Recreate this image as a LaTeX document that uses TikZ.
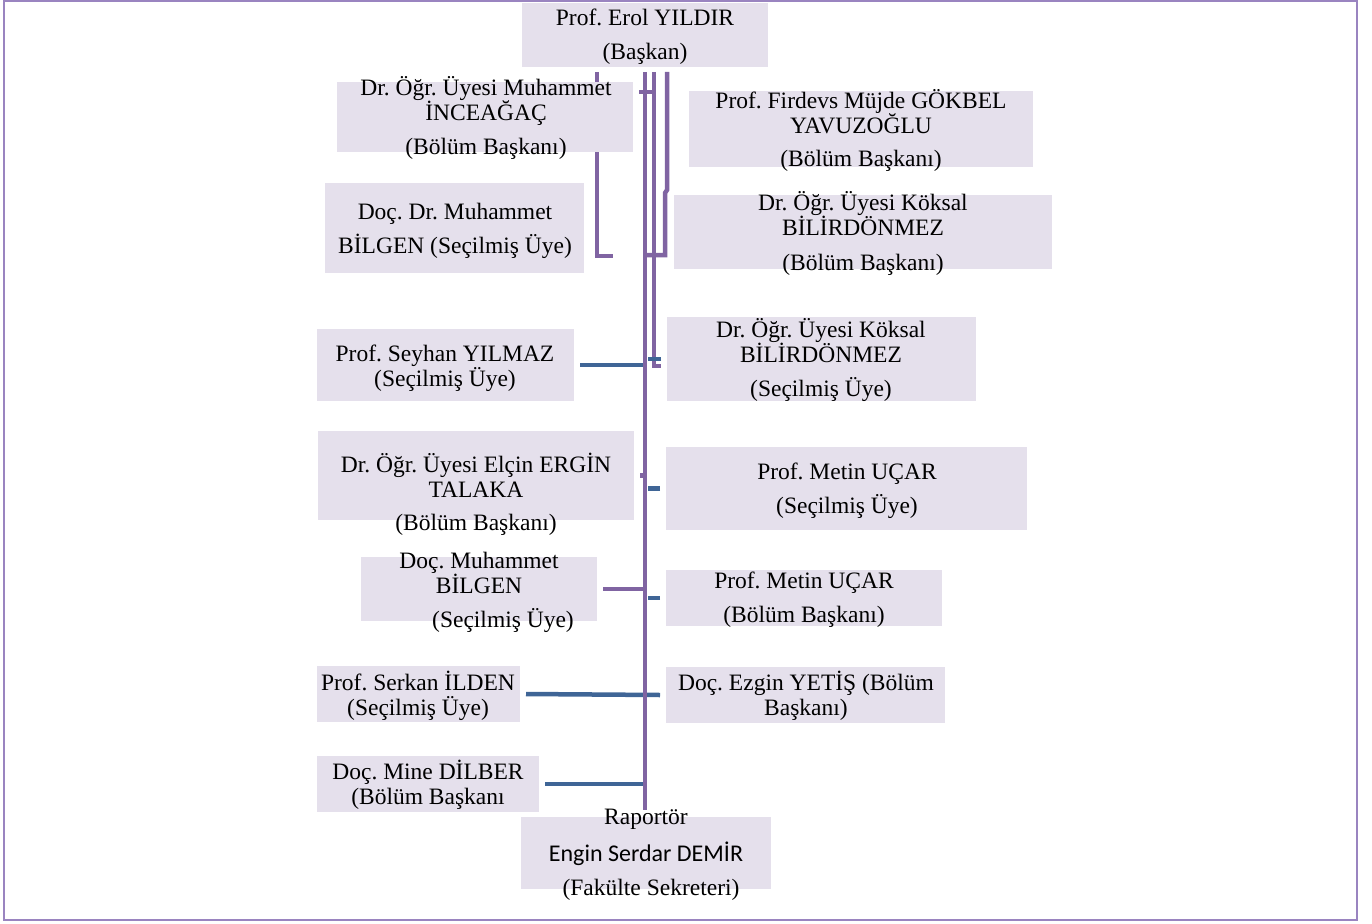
\documentclass[tikz,border=0pt]{standalone}
\usepackage{fontspec}
\setmainfont{Liberation Serif}
\newfontfamily\calibriyazi{Carlito}
\usepackage{tikz}
\definecolor{kutumor}{HTML}{E5E0EC}
\definecolor{cizgimor}{HTML}{8064A2}
\definecolor{cizgimavi}{HTML}{3F6596}
\definecolor{cerceve}{HTML}{9A84C0}
\frenchspacing

\begin{document}
\begin{tikzpicture}[x=1pt,y=-1pt,
	kutu/.style={fill=kutumor,inner sep=0,outer sep=0},
	yazi/.style={align=center,anchor=base,inner sep=0,font=\fontsize{23.5}{25}\selectfont},
	mor/.style={draw=cizgimor,line width=4.5},
	mavi/.style={draw=cizgimavi,line width=4.5}]
			\useasboundingbox (0,0) rectangle (1372,923);
			\draw[cerceve,line width=2.5] (4,1) rectangle (1357,920);
			\coordinate (omurgaUst) at (645,72);
			\coordinate (omurgaAlt) at (645,810);
			\coordinate (ikinciUst) at (654,72);
			\coordinate (ikinciAlt) at (654,366);
			\coordinate (ucuncuUst) at (667,72);
			\coordinate (ucuncuAlt) at (665,255);
			\coordinate (solUst) at (597,72);
			\coordinate (solAlt) at (597,256);
			\draw[mor] (solUst) -- (solAlt) -- ++(16,0);
			\draw[mor] (ikinciUst) -- (ikinciAlt) -- ++(7,0);
			\draw[mor] (ucuncuUst) -- (667,190) -- (665,193) -- (ucuncuAlt) -- (ucuncuAlt -| omurgaUst);
			\node[kutu,minimum width=246,minimum height=64] (baskan) at (645,35) {};
			\node[kutu,minimum width=296,minimum height=70] (inceagac) at (485,117) {};
			\node[kutu,minimum width=344,minimum height=76] (gokbel) at (861,129) {};
			\node[kutu,minimum width=259,minimum height=90] (bilgenA) at (454.5,228) {};
			\node[kutu,minimum width=378,minimum height=74] (koksalA) at (863,232) {};
			\node[kutu,minimum width=257,minimum height=72] (seyhan) at (445.5,365) {};
			\node[kutu,minimum width=309,minimum height=84] (koksalB) at (821.5,359) {};
			\node[kutu,minimum width=316,minimum height=89] (elcin) at (476,475.5) {};
			\node[kutu,minimum width=361,minimum height=83] (metinA) at (846.5,488.5) {};
			\node[kutu,minimum width=236,minimum height=64] (bilgenB) at (479,589) {};
			\node[kutu,minimum width=276,minimum height=56] (metinB) at (804,598) {};
			\node[kutu,minimum width=203,minimum height=56] (serkan) at (418.5,694) {};
			\node[kutu,minimum width=279,minimum height=56] (ezgin) at (805.5,695) {};
			\node[kutu,minimum width=222,minimum height=56] (mine) at (428,784) {};
			\node[kutu,minimum width=250,minimum height=72] (raportor) at (646,853) {};
			\draw[mor] ([xshift=6,yshift=25]inceagac.east) -- ([yshift=25]inceagac.east -| ikinciUst);
			\draw[mavi] ([xshift=6]seyhan.east) -- (seyhan.east -| omurgaUst);
			\draw[mavi] ([xshift=6]serkan.east) -- ([xshift=-6]ezgin.west);
			\draw[mavi] ([xshift=6]mine.east) -- (mine.east -| omurgaUst);
			\draw[mor] ([xshift=6]bilgenB.east) -- (bilgenB.east -| omurgaUst);
			\draw[mor] ([xshift=6]elcin.east) -- (elcin.east -| omurgaUst);
			\draw[mor] (omurgaUst) -- (omurgaAlt);
			\foreach \k in {koksalB,metinA,metinB}
				\draw[mavi] ([xshift=-6]\k.west) -- ([xshift=3]\k.west -| omurgaUst);
			\node[yazi] (baskanT) at (645,60) {Prof. Erol YILDIR\\[9pt](Başkan)};
			\node[yazi] (inceagacT) at (486,154) {Dr. Öğr. Üyesi Muhammet\\İNCEAĞAÇ\\[9pt](Bölüm Başkanı)};
			\node[yazi] (gokbelT) at (861,166) {Prof. Firdevs Müjde GÖKBEL\\YAVUZOĞLU\\[8pt](Bölüm Başkanı)};
			\node[yazi] (bilgenAT) at (455,253) {Doç. Dr. Muhammet\\[9pt]BİLGEN (Seçilmiş Üye)};
			\node[yazi] (koksalAT) at (863,270) {Dr. Öğr. Üyesi Köksal\\BİLİRDÖNMEZ\\[10pt](Bölüm Başkanı)};
			\node[yazi] (seyhanT) at (445,386) {Prof. Seyhan YILMAZ\\(Seçilmiş Üye)};
			\node[yazi] (koksalBT) at (821,396) {Dr. Öğr. Üyesi Köksal\\BİLİRDÖNMEZ\\[9pt](Seçilmiş Üye)};
			\node[yazi] (elcinT) at (476,530) {Dr. Öğr. Üyesi Elçin ERGİN\\TALAKA\\[8pt](Bölüm Başkanı)};
			\node[yazi] (metinAT) at (847,513) {Prof. Metin UÇAR\\[9pt](Seçilmiş Üye)};
			\node[yazi] (bilgenBT) at (479,627) {Doç. Muhammet\\BİLGEN\\[9pt]\hspace*{48pt}(Seçilmiş Üye)};
			\node[yazi] (metinBT) at (804,622) {Prof. Metin UÇAR\\[9pt](Bölüm Başkanı)};
			\node[yazi] (serkanT) at (418,715) {Prof. Serkan İLDEN\\(Seçilmiş Üye)};
			\node[yazi] (ezginT) at (806,715) {Doç. Ezgin YETİŞ (Bölüm\\Başkanı)};
			\node[yazi] (mineT) at (428,804) {Doç. Mine DİLBER\\(Bölüm Başkanı};
			\node[yazi] (raportorT) at (646,895) {Raportör\\[12pt]{\calibriyazi\fontsize{24}{25}\selectfont Engin Serdar DEMİR}\\[9pt]\hspace*{10pt}(Fakülte Sekreteri)};
		\end{tikzpicture}
\end{document}
